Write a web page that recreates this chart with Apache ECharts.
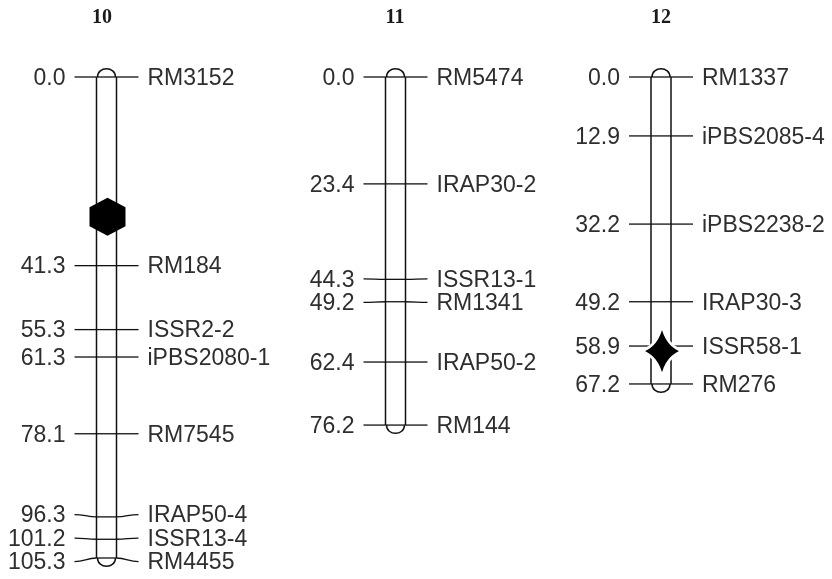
<!DOCTYPE html>
<html>
<head>
<meta charset="utf-8">
<script src="https://cdn.jsdelivr.net/npm/echarts@6/dist/echarts.min.js"></script>
<style>
html,body{margin:0;padding:0;background:#fff;}
#main{width:832px;height:579px;}
</style>
</head>
<body>
<div id="main"></div>
<script>
// ---- data ----
var chromosomes = ['10', '11', '12'];
var chr10Pos = [0.0, 41.3, 55.3, 61.3, 78.1, 96.3, 101.2, 105.3];
var chr10Names = ['RM3152', 'RM184', 'ISSR2-2', 'iPBS2080-1', 'RM7545', 'IRAP50-4', 'ISSR13-4', 'RM4455'];
var chr11Pos = [0.0, 23.4, 44.3, 49.2, 62.4, 76.2];
var chr11Names = ['RM5474', 'IRAP30-2', 'ISSR13-1', 'RM1341', 'IRAP50-2', 'RM144'];
var chr12Pos = [0.0, 12.9, 32.2, 49.2, 58.9, 67.2];
var chr12Names = ['RM1337', 'iPBS2085-4', 'iPBS2238-2', 'IRAP30-3', 'ISSR58-1', 'RM276'];
// centromere-like symbols (estimated cM position)
var chr10Hexagon = [30.6];
var chr12Star = [60.0];

// ---- layout / style ----
var centersX = [106.5, 395.5, 661];
var titleX = [102, 395, 661];
var gridTop = 77, gridHeight = 481, yMax = 105.3;
var minLabelGap = 5.15; // cM
var textFont = '23px "Liberation Sans", Arial, sans-serif';
var textColor = '#2e2e2e';
var lineColor = '#111';

var allPos = [chr10Pos, chr11Pos, chr12Pos];
var allNames = [chr10Names, chr11Names, chr12Names];

function spreadLabels(pos) {
  var lab = pos.slice();
  for (var it = 0; it < 200; it++) {
    for (var i = 1; i < lab.length; i++) {
      var d = lab[i] - lab[i - 1];
      if (d < minLabelGap) {
        var o = (minLabelGap - d) / 2;
        lab[i - 1] -= o; lab[i] += o;
      }
    }
  }
  return lab;
}

var grids = [], xAxes = [], yAxes = [], series = [], graphics = [];
chromosomes.forEach(function (c, i) {
  grids.push({ left: centersX[i] - 100, width: 200, top: gridTop, height: gridHeight });
  xAxes.push({ type: 'value', gridIndex: i, min: -100, max: 100, show: false });
  yAxes.push({ type: 'value', gridIndex: i, min: 0, max: yMax, inverse: true, show: false });
  graphics.push({
    type: 'text', x: titleX[i], y: 18,
    style: { text: c, align: 'center', verticalAlign: 'middle', font: 'bold 20px "Liberation Serif", "DejaVu Serif", serif', fill: '#1a1a1a' }
  });
  var pos = allPos[i];
  var names = allNames[i];
  var len = pos[pos.length - 1];
  // chromosome body
  series.push({
    type: 'custom', xAxisIndex: i, yAxisIndex: i, clip: false, z: 2,
    data: [[0, 0, len]],
    renderItem: function (params, api) {
      var p0 = api.coord([0, api.value(1)]);
      var p1 = api.coord([0, api.value(2)]);
      var cx = p0[0], y0 = p0[1], y1 = p1[1], hw = 10;
      var st = { stroke: lineColor, lineWidth: 1.5, fill: null };
      return {
        type: 'group',
        children: [
          { type: 'line', shape: { x1: cx - hw, y1: y0, x2: cx - hw, y2: y1 }, style: st },
          { type: 'line', shape: { x1: cx + hw, y1: y0, x2: cx + hw, y2: y1 }, style: st },
          { type: 'bezierCurve', shape: { x1: cx - hw + 1, y1: y0, x2: cx + hw - 1, y2: y0, cpx1: cx - hw + 1, cpy1: y0 - 11, cpx2: cx + hw - 1, cpy2: y0 - 11 }, style: st },
          { type: 'bezierCurve', shape: { x1: cx - hw + 1, y1: y1, x2: cx + hw - 1, y2: y1, cpx1: cx - hw + 1, cpy1: y1 + 11, cpx2: cx + hw - 1, cpy2: y1 + 11 }, style: st }
        ]
      };
    }
  });
  // markers
  var lab = spreadLabels(pos);
  var mdata = pos.map(function (p, k) { return [0, p, lab[k]]; });
  series.push({
    type: 'custom', xAxisIndex: i, yAxisIndex: i, clip: false, z: 3,
    data: mdata,
    renderItem: function (params, api) {
      var idx = params.dataIndex;
      var pm = api.coord([0, api.value(1)]);
      var pl = api.coord([0, api.value(2)]);
      var cx = pm[0], my = pm[1], ly = pl[1];
      var st = { stroke: lineColor, lineWidth: 1.3, fill: null };
      return {
        type: 'group',
        children: [
          { type: 'line', shape: { x1: cx - 10, y1: my, x2: cx + 10, y2: my }, style: st },
          { type: 'bezierCurve', shape: { x1: cx - 32, y1: ly, x2: cx - 10, y2: my, cpx1: cx - 22, cpy1: ly, cpx2: cx - 20, cpy2: my }, style: st },
          { type: 'bezierCurve', shape: { x1: cx + 32, y1: ly, x2: cx + 10, y2: my, cpx1: cx + 22, cpy1: ly, cpx2: cx + 20, cpy2: my }, style: st },
          { type: 'text', style: { text: api.value(1).toFixed(1), x: cx - 41, y: ly + 1.5, align: 'right', verticalAlign: 'middle', font: textFont, fill: textColor } },
          { type: 'text', style: { text: names[idx], x: cx + 41, y: ly + 1.5, align: 'left', verticalAlign: 'middle', font: textFont, fill: textColor } }
        ]
      };
    }
  });
});

// symbols
series.push({
  type: 'scatter', xAxisIndex: 0, yAxisIndex: 0, z: 5, silent: true,
  data: chr10Hexagon.map(function (v) { return [1, v]; }),
  symbol: 'path://M0,-1 L0.866,-0.5 L0.866,0.5 L0,1 L-0.866,0.5 L-0.866,-0.5 Z',
  symbolSize: [36, 38],
  itemStyle: { color: '#000', opacity: 1 }
});
series.push({
  type: 'scatter', xAxisIndex: 2, yAxisIndex: 2, z: 5, silent: true,
  data: chr12Star.map(function (v) { return [1, v]; }),
  symbol: 'path://M0,-1 Q0.2,-0.2 1,0 Q0.2,0.2 0,1 Q-0.2,0.2 -1,0 Q-0.2,-0.2 0,-1 Z',
  symbolSize: [42, 52],
  itemStyle: { color: '#000', opacity: 1, borderColor: '#fff', borderWidth: 2.5 }
});

var chart = echarts.init(document.getElementById('main'), null, { renderer: 'canvas' });
chart.setOption({
  animation: false,
  backgroundColor: '#fff',
  graphic: graphics,
  grid: grids,
  xAxis: xAxes,
  yAxis: yAxes,
  series: series
});
</script>
</body>
</html>
